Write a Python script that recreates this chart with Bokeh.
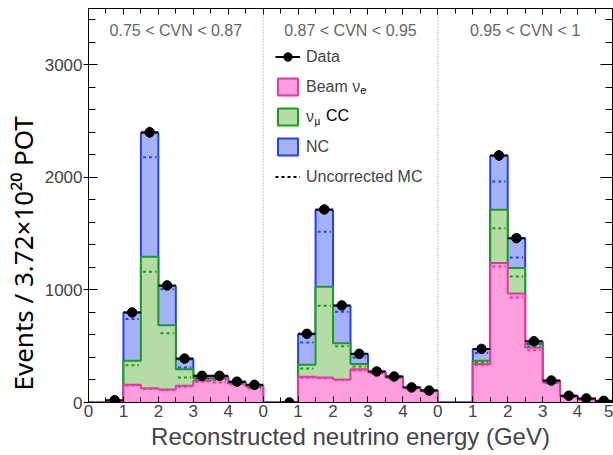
import numpy as np
from bokeh.plotting import figure
from bokeh.models import (Range1d, FixedTicker, SingleIntervalTicker, LinearAxis, Span, Label,
                          Legend, LegendItem, ColumnDataSource, Title)
from bokeh.embed import file_html
from bokeh.resources import INLINE

# ---------------- data ----------------
panel_labels = ["0.75 < CVN < 0.87", "0.87 < CVN < 0.95", "0.95 < CVN < 1"]
panel_width = 5.0          # GeV per panel
bin_width = 0.5            # GeV

# corrected MC components (stacked: beam nue, then numu CC, then NC)
beam_nue = [0, 8, 157, 127, 116, 148, 193, 213, 169, 139,
            0, 0, 228, 222, 205, 296, 268, 222, 130, 102,
            0, 0, 341, 1239, 969, 489, 178, 56, 28, 8]
numu_cc = [0, 2, 213, 1168, 571, 148, 23, 9, 7, 7,
           0, 0, 107, 806, 322, 45, 4, 4, 2, 2,
           0, 0, 29, 474, 225, 30, 8, 2, 2, 1]
nc = [0, 2, 430, 1099, 347, 89, 12, 6, 8, 8,
      0, 0, 272, 682, 332, 89, 4, 4, 3, 2,
      0, 0, 104, 480, 264, 23, 7, 2, 2, 1]

# uncorrected MC components
unc_beam_nue = [0, 8, 150, 120, 110, 140, 185, 178, 160, 125,
                0, 0, 220, 215, 200, 285, 260, 215, 126, 98,
                0, 0, 330, 1209, 933, 465, 170, 52, 26, 7]
unc_numu_cc = [0, 2, 182, 1041, 506, 82, 15, 22, 10, 15,
               0, 0, 82, 644, 300, 35, 5, 5, 2, 2,
               0, 0, 30, 338, 187, 35, 5, 2, 2, 1]
unc_nc = [0, 2, 409, 1017, 391, 89, 10, 5, 5, 5,
          0, 0, 231, 658, 306, 80, 3, 4, 2, 2,
          0, 0, 80, 417, 169, 20, 5, 2, 1, 1]

nan = float("nan")
data = [nan, 20, 800, 2400, 1040, 390, 237, 237, 185, 157,
        nan, 0, 610, 1715, 862, 432, 276, 231, 134, 106,
        nan, nan, 476, 2195, 1460, 544, 195, 60, 36, 15]

# ---------------- derived ----------------
n_panels = len(panel_labels)
n_bins = len(beam_nue)
edges = np.arange(n_bins + 1) * bin_width
lo, hi = edges[:-1], edges[1:]
centers = 0.5 * (lo + hi)

lvl_pink = np.array(beam_nue, float)
lvl_green = lvl_pink + np.array(numu_cc, float)
lvl_blue = lvl_green + np.array(nc, float)
ulvl_pink = np.array(unc_beam_nue, float)
ulvl_green = ulvl_pink + np.array(unc_numu_cc, float)
ulvl_blue = ulvl_green + np.array(unc_nc, float)
d = np.array(data, float)
derr = np.sqrt(d)

PINK_F, PINK_L = "#ff9edf", "#e6369f"
GREEN_F, GREEN_L = "#b6dca6", "#1e9a22"
BLUE_F, BLUE_L = "#a6b2f8", "#1f44ee"
FONT = "Liberation Sans"

p = figure(width=613, height=455, output_backend="svg", toolbar_location=None,
           x_range=Range1d(0, n_panels * panel_width), y_range=Range1d(0, 3500),
           min_border_left=88, min_border_right=1, min_border_top=8, min_border_bottom=53,
           background_fill_color="white", border_fill_color="white")
p.xgrid.visible = False
p.ygrid.visible = False
p.outline_line_color = "black"
p.outline_line_width = 1


def step_path(levels):
    xs = np.repeat(edges, 2)
    ys = np.concatenate([[0.0], np.repeat(levels, 2), [0.0]])
    return xs, ys


for lvl, fcol, lcol in [(lvl_blue, BLUE_F, BLUE_L), (lvl_green, GREEN_F, GREEN_L),
                        (lvl_pink, PINK_F, PINK_L)]:
    p.quad(left=lo, right=hi, bottom=0, top=lvl, fill_color=fcol, line_color=None)
    xs, ys = step_path(lvl)
    p.line(xs, ys, line_color=lcol, line_width=2)

# uncorrected MC (dashed)
for lvl, lcol in [(ulvl_blue, BLUE_L), (ulvl_green, GREEN_L), (ulvl_pink, PINK_L)]:
    p.segment(x0=lo + 0.06, x1=hi - 0.06, y0=lvl, y1=lvl, line_color=lcol,
              line_width=2, line_dash="3 3")

# panel dividers
for i in range(1, n_panels):
    p.add_layout(Span(location=i * panel_width, dimension="height", line_color="#8a8a8a",
                      line_width=1, line_dash="1 2"))

# data points
src = ColumnDataSource(dict(x=centers, y=d, xl=centers - bin_width / 2,
                            xh=centers + bin_width / 2, yl=d - derr, yh=d + derr))
r_dh = p.segment(x0="xl", x1="xh", y0="y", y1="y", source=src, line_color="black", line_width=2)
r_dv = p.segment(x0="x", x1="x", y0="yl", y1="yh", source=src, line_color="black", line_width=2)
r_dp = p.scatter(x="x", y="y", source=src, size=9.5, fill_color="black", line_color="black")

# panel labels
for i, txt in enumerate(panel_labels):
    p.add_layout(Label(x=(i + 0.5) * panel_width, y=3305, text=txt, text_align="center",
                       text_baseline="middle", text_font=FONT, text_font_size="16px",
                       text_color="#666666"))

# axes
xt = list(range(0, int(n_panels * panel_width) + 1))
xminor = list(np.arange(bin_width, n_panels * panel_width, bin_width))
overrides = {t: str(int(t - panel_width * min(int(t // panel_width), n_panels - 1))) for t in xt}

xa = p.xaxis[0]
xa.ticker = FixedTicker(ticks=xt, minor_ticks=xminor)
xa.major_label_overrides = overrides
xa.major_tick_in, xa.major_tick_out = 6, 0
xa.minor_tick_in, xa.minor_tick_out = 5, 0
xa.major_label_text_font = FONT
xa.major_label_text_font_size = "17px"
xa.major_label_standoff = 2
xa.axis_label = "Reconstructed neutrino energy (GeV)"
xa.axis_label_text_font = FONT
xa.axis_label_text_font_size = "24px"
xa.axis_label_text_font_style = "normal"
xa.axis_label_standoff = 3

ya = p.yaxis[0]
ya.ticker = SingleIntervalTicker(interval=1000, num_minor_ticks=5)
ya.major_tick_in, ya.major_tick_out = 9, 5
ya.minor_tick_in, ya.minor_tick_out = 7, 0
ya.major_label_text_font = FONT
ya.major_label_text_font_size = "17px"
ya.major_label_standoff = 1

top = LinearAxis(ticker=FixedTicker(ticks=xt, minor_ticks=xminor), major_label_text_font_size="0px",
                 major_tick_in=6, major_tick_out=0, minor_tick_in=5, minor_tick_out=0,
                 major_label_standoff=0)
top.major_label_overrides = {t: "" for t in xt}
p.add_layout(top, "above")
yt = [0, 1000, 2000, 3000]
right = LinearAxis(ticker=SingleIntervalTicker(interval=1000, num_minor_ticks=5),
                   major_label_text_font_size="0px", major_tick_in=12, major_tick_out=0,
                   minor_tick_in=7, minor_tick_out=0, major_label_standoff=0)
right.major_label_overrides = {t: "" for t in yt}
p.add_layout(right, "right")

# y axis title
p.add_layout(Title(text="Events / 3.72×10²⁰ POT", align="left", offset=12, standoff=2,
                   text_font="Noto Sans", text_font_size="26px", text_font_style="normal",
                   text_color="black"), "left")

# legend
r_pink = p.quad(left=[nan], right=[nan], bottom=[nan], top=[nan], fill_color=PINK_F,
                line_color=PINK_L, line_width=2)
r_green = p.quad(left=[nan], right=[nan], bottom=[nan], top=[nan], fill_color=GREEN_F,
                 line_color=GREEN_L, line_width=2)
r_blue = p.quad(left=[nan], right=[nan], bottom=[nan], top=[nan], fill_color=BLUE_F,
                line_color=BLUE_L, line_width=2)
r_unc = p.line(x=[nan, nan], y=[nan, nan], line_color="black", line_width=2, line_dash="3 3")

legend = Legend(items=[LegendItem(label="Data", renderers=[r_dh, r_dp]),
                       LegendItem(label="Beam ν", renderers=[r_pink]),
                       LegendItem(label="ν", renderers=[r_green]),
                       LegendItem(label="NC", renderers=[r_blue]),
                       LegendItem(label="Uncorrected MC", renderers=[r_unc])],
                location=(187, 215), glyph_width=25, glyph_height=21, spacing=9, padding=0,
                margin=0, label_height=21, label_standoff=6,
                label_text_font=FONT, label_text_font_size="16px",
                border_line_color=None, background_fill_alpha=0)
p.add_layout(legend, "center")

p.add_layout(Label(x=6.80, y=2550, text="CC", text_baseline="middle", text_font=FONT,
                   text_font_size="16px", text_color="black"))
p.add_layout(Label(x=7.78, y=2775, text="e", text_baseline="middle", text_font=FONT,
                   text_font_size="11px", text_color="black"))
p.add_layout(Label(x=6.47, y=2500, text="μ", text_baseline="middle", text_font=FONT,
                   text_font_size="10px", text_color="black"))

open("out.html", "w").write(file_html(p, INLINE))
